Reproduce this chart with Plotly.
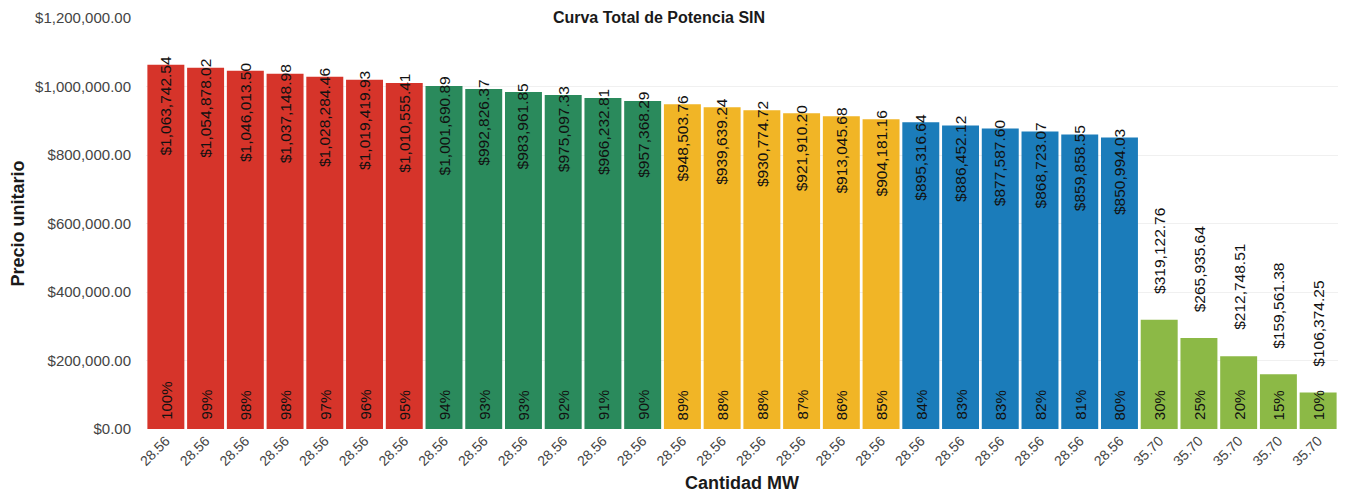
import plotly.graph_objects as go

precios = [1063742.54, 1054878.02, 1046013.50, 1037148.98, 1028284.46, 1019419.93, 1010555.41,
           1001690.89, 992826.37, 983961.85, 975097.33, 966232.81, 957368.29,
           948503.76, 939639.24, 930774.72, 921910.20, 913045.68, 904181.16,
           895316.64, 886452.12, 877587.60, 868723.07, 859858.55, 850994.03,
           319122.76, 265935.64, 212748.51, 159561.38, 106374.25]
porcentajes = ["100%", "99%", "98%", "98%", "97%", "96%", "95%",
               "94%", "93%", "93%", "92%", "91%", "90%",
               "89%", "88%", "88%", "87%", "86%", "85%",
               "84%", "83%", "83%", "82%", "81%", "80%",
               "30%", "25%", "20%", "15%", "10%"]
cantidad_mw = ["28.56"] * 25 + ["35.70"] * 5
grupos = ["rojo"] * 7 + ["verde"] * 6 + ["amarillo"] * 6 + ["azul"] * 6 + ["verde_claro"] * 5
y_ticks = [0, 200000, 400000, 600000, 800000, 1000000, 1200000]

colores = {"rojo": "#d6342a", "verde": "#2a8a5c", "amarillo": "#f1b526",
           "azul": "#1b7cba", "verde_claro": "#8cb946"}

x = list(range(len(precios)))
fig = go.Figure()
fig.add_trace(go.Bar(x=x, y=precios, marker_color=[colores[g] for g in grupos],
                     marker_line_width=0, hoverinfo="skip"))

fam = "Liberation Sans, Arial"
font_val = dict(family=fam, size=15.5, color="#111111")
font_pct = dict(family=fam, size=15, color="#111111")
annotations = []
for i, (v, p, g) in enumerate(zip(precios, porcentajes, grupos)):
    label = "${:,.2f}".format(v)
    if g == "verde_claro":
        annotations.append(dict(x=i, y=v, xref="x", yref="y", text=label, textangle=-90,
                                showarrow=False, yanchor="bottom", yshift=24, font=font_val))
    else:
        annotations.append(dict(x=i, y=v, xref="x", yref="y", text=label, textangle=-90,
                                showarrow=False, yanchor="top", yshift=11, font=font_val))
    annotations.append(dict(x=i, y=0, xref="x", yref="y", text=p, textangle=-90,
                            showarrow=False, yanchor="bottom", yshift=7, font=font_pct))

fig.update_layout(
    width=1349, height=500,
    margin=dict(l=138, r=19, t=10, b=79),
    plot_bgcolor="white", paper_bgcolor="white",
    bargap=0.07, showlegend=False,
    title=dict(text="<b>Curva Total de Potencia SIN</b>", x=651 / 1349, xanchor="center",
               xref="container", y=0.992, yanchor="top", yref="container", pad=dict(t=0),
               font=dict(family=fam, size=16, color="#1a1a1a")),
    annotations=annotations,
    font=dict(family=fam),
)
fig.update_xaxes(tickvals=x, ticktext=cantidad_mw, tickangle=-45, range=[-0.5, len(x) - 0.5],
                 tickfont=dict(size=14, color="#444"), showgrid=False, showline=False, ticks="",
                 automargin=False,
                 title=dict(text="<b>Cantidad MW</b>", font=dict(size=18, color="#1a1a1a"), standoff=8))
fig.update_yaxes(range=[0, 1200000], tickvals=y_ticks,
                 ticktext=["${:,.2f}".format(t) for t in y_ticks],
                 tickfont=dict(size=15, color="#444"), showgrid=True, gridcolor="#f0f0f0",
                 zeroline=False, ticks="", ticklabelstandoff=14, automargin=False,
                 ticklabeloverflow="allow",
                 title=dict(text="<b>Precio unitario</b>", font=dict(size=18, color="#1a1a1a"), standoff=6))

fig.write_html("out.html")
